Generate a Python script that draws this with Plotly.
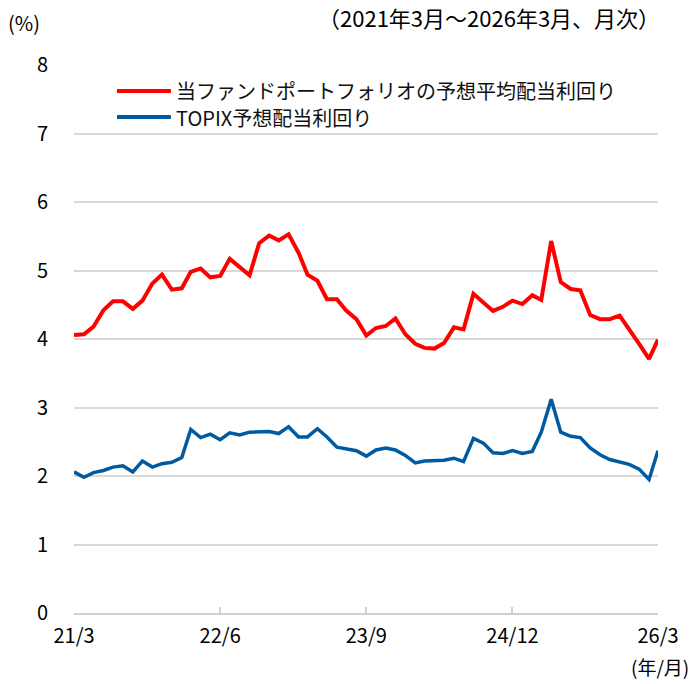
import pandas as pd
import plotly.graph_objects as go

months = pd.date_range("2021-03-01", periods=61, freq="MS")
tick_dates = ["2021-03-01", "2022-06-01", "2023-09-01", "2024-12-01", "2026-03-01"]
tick_labels = ["21/3", "22/6", "23/9", "24/12", "26/3"]

fund_yield = [4.06, 4.07, 4.18, 4.42, 4.55, 4.55, 4.44, 4.56, 4.81, 4.94,
              4.72, 4.74, 4.98, 5.03, 4.90, 4.92, 5.17, 5.05, 4.93, 5.40,
              5.51, 5.44, 5.53, 5.26, 4.94, 4.85, 4.58, 4.58, 4.41, 4.29,
              4.05, 4.16, 4.19, 4.30, 4.07, 3.93, 3.87, 3.86, 3.94, 4.17,
              4.14, 4.66, 4.53, 4.41, 4.47, 4.56, 4.51, 4.64, 4.57, 5.43,
              4.83, 4.73, 4.71, 4.35, 4.29, 4.29, 4.34, 4.15, 3.93, 3.71,
              3.99]
topix_yield = [2.06, 1.98, 2.05, 2.08, 2.13, 2.15, 2.06, 2.22, 2.13, 2.18,
               2.20, 2.27, 2.68, 2.56, 2.61, 2.53, 2.63, 2.60, 2.64, 2.65,
               2.65, 2.62, 2.72, 2.57, 2.57, 2.69, 2.57, 2.42, 2.40, 2.37,
               2.29, 2.38, 2.41, 2.38, 2.30, 2.19, 2.22, 2.22, 2.23, 2.26,
               2.21, 2.55, 2.48, 2.34, 2.33, 2.37, 2.33, 2.36, 2.64, 3.12,
               2.64, 2.58, 2.56, 2.41, 2.31, 2.24, 2.20, 2.17, 2.10, 1.95,
               2.37]

series_names = ["当ファンドポートフォリオの予想平均配当利回り", "TOPIX予想配当利回り"]
series_colors = ["#FF0000", "#005AA0"]
series_widths = [4, 3.5]

FONT = "Noto Sans CJK JP"

fig = go.Figure()
for vals, name, color, w in zip([fund_yield, topix_yield], series_names, series_colors, series_widths):
    fig.add_trace(go.Scatter(x=months, y=vals, mode="lines", name=name,
                             line=dict(color=color, width=w)))

# custom legend (long line swatches like the reference)
legend_y = [0.9526, 0.905]
shapes = []
annotations = []
for name, color, ly in zip(series_names, series_colors, legend_y):
    shapes.append(dict(type="line", xref="paper", yref="paper", x0=0.0736, x1=0.166,
                       y0=ly, y1=ly, line=dict(color=color, width=4)))
    annotations.append(dict(text=name, xref="paper", yref="paper", x=0.172, y=ly,
                            xanchor="left", yanchor="middle", showarrow=False,
                            font=dict(size=20, family=FONT, color="#111111")))

annotations += [
    dict(text="(%)", xref="paper", yref="paper", x=-0.117, y=1.078, xanchor="left",
         yanchor="middle", showarrow=False, font=dict(size=20, family=FONT)),
    dict(text="（2021年3月～2026年3月、月次）", xref="paper", yref="paper", x=1.006, y=1.087,
         xanchor="right", yanchor="middle", showarrow=False, font=dict(size=22, family=FONT)),
    dict(text="(年/月)", xref="paper", yref="paper", x=1.057, y=-0.0985, xanchor="right",
         yanchor="middle", showarrow=False, font=dict(size=19, family=FONT)),
]

fig.update_layout(
    width=700, height=684,
    margin=dict(l=74, r=42, t=65, b=71),
    paper_bgcolor="white", plot_bgcolor="white",
    font=dict(family=FONT, size=20, color="#000000"),
    showlegend=False,
    xaxis=dict(range=[months[0], months[-1]], tickvals=tick_dates, ticktext=tick_labels,
               showgrid=False, showline=True, linecolor="#d0d0d0", linewidth=1.5,
               ticks="inside", ticklen=6, tickcolor="#d0d0d0", tickwidth=1.5,
               ticklabelstandoff=4,
               tickfont=dict(size=20, family=FONT), zeroline=False),
    yaxis=dict(range=[0, 8], dtick=1, showgrid=True, gridcolor="#d9d9d9", gridwidth=1.5,
               showline=False, zeroline=False, ticks="", ticklabelstandoff=25,
               tickfont=dict(size=20, family=FONT)),
    shapes=shapes,
    annotations=annotations,
)

fig.write_html("out.html", config={"displayModeBar": False},
               post_script="document.body.style.margin='0';")
